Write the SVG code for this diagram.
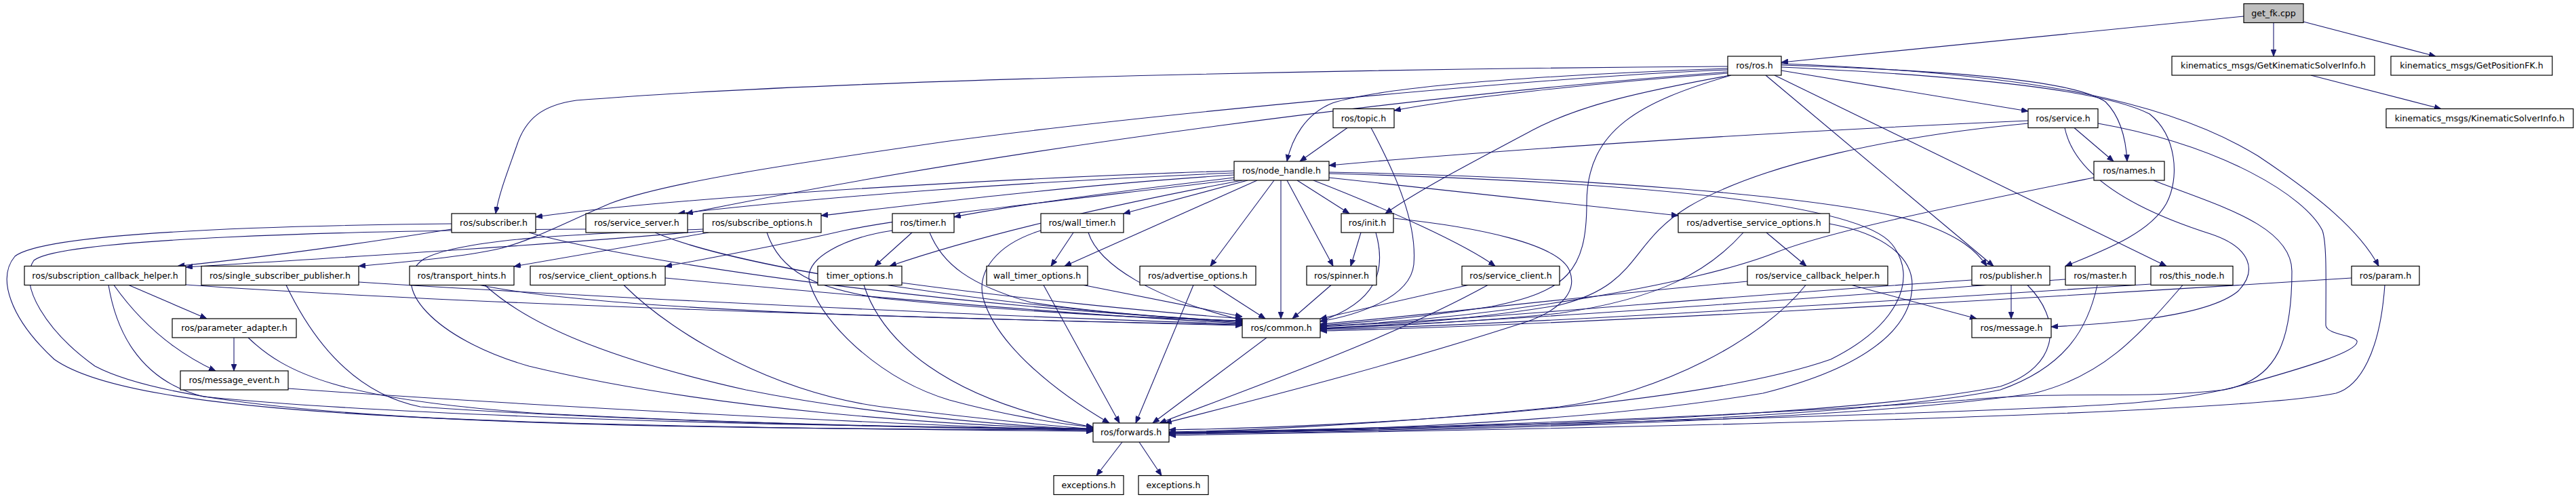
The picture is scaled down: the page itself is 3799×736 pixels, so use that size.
<svg xmlns="http://www.w3.org/2000/svg" width="3799" height="736" viewBox="0 0 3799 736">
<style>
.n rect{fill:#fff;stroke:#000;stroke-width:1.2}
.n.root rect{fill:#bfbfbf}
.n text{font-family:"DejaVu Sans","Liberation Sans",sans-serif;font-size:12.6px;text-anchor:middle;fill:#000}
#edges path{fill:none;stroke:#191970;stroke-width:1.1;marker-end:url(#a)}
</style>
<defs>
<marker id="a" markerWidth="11" markerHeight="8" refX="10" refY="4" orient="auto" markerUnits="userSpaceOnUse"><path d="M0,0 L10,4 L0,8 z" fill="#191970" stroke="#191970" stroke-width="0.8"/></marker>
</defs>
<rect width="3799" height="736" fill="#fff"/>
<g id="edges">
<path d="M3309,24 L2627,92"/>
<path d="M3353,34 L3353,83"/>
<path d="M3397,32 L3592,83"/>
<path d="M3408,111 L3600,160.5"/>
<path d="M2548,98 C2200,100 1300,112 850,148 C800,155 775,175 762,215 C748,255 736,285 731,315"/>
<path d="M2548,103 C2300,112 1700,168 1400,208 C1150,244 980,270 900,300 C830,330 790,352 740,366 C680,380 580,388 529,392.5"/>
<path d="M2548,106 C2100,140 1500,215 1012,315"/>
<path d="M2548,101 C2300,110 2050,125 1965,152 C1925,168 1905,205 1898,238"/>
<path d="M2548,108 C2350,122 2150,145 2056,163"/>
<path d="M2552,111 C2420,135 2330,155 2260,192 C2160,245 2090,282 2043,315"/>
<path d="M2553,111 C2420,150 2340,190 2340,300 C2340,400 2310,430 2200,452 C2100,468 2000,476 1947,480"/>
<path d="M2627,104 L2991,164"/>
<path d="M2627,96 C2900,105 3060,120 3105,150 C3125,170 3135,200 3137,238"/>
<path d="M2604,111 L2940,392.5"/>
<path d="M2627,99 C2900,112 3100,132 3170,168 C3210,200 3215,262 3195,300 C3170,345 3100,370 3046,392.5"/>
<path d="M2617,111 L3195,392.5"/>
<path d="M2627,94 C3000,108 3200,150 3330,230 C3420,290 3480,340 3508,392.5"/>
<path d="M1987,188.5 L1917,238"/>
<path d="M2022,188.5 C2060,260 2090,330 2085,390 C2080,440 2000,465 1947,474"/>
<path d="M2991,178 C2600,195 2200,222 1960,244"/>
<path d="M3059,188.5 L3117,238"/>
<path d="M2991,182 C2800,200 2600,240 2490,305 C2400,360 2420,420 2300,450 C2150,475 2000,482 1947,484"/>
<path d="M3094,182 C3280,215 3400,290 3425,340 C3432,360 3430,420 3430,480 C3432,494 3472,494 3476,503 C3480,518 3400,542 3300,570 C3200,595 3100,598 3000,602 C2600,620 1900,634 1724,638"/>
<path d="M3045,188.5 C3060,260 3150,310 3260,345 C3320,365 3330,400 3300,430 C3250,470 3100,478 3025,482"/>
<path d="M1820,252 C1500,262 1000,290 790,320"/>
<path d="M1820,255 C1500,268 1200,292 1000,315"/>
<path d="M1820,258 C1600,272 1400,296 1211,318"/>
<path d="M1820,262 C1650,282 1500,302 1407,320"/>
<path d="M1840,266 L1657,315"/>
<path d="M1913,266 L1990,315"/>
<path d="M1960,262 L2475,318"/>
<path d="M1822,265 C1600,292 1350,318 1245,340 C1150,362 1050,380 981,393"/>
<path d="M1832,266 C1650,300 1450,345 1312,392.5"/>
<path d="M1854,266 L1570,392.5"/>
<path d="M1879,266 L1785,392.5"/>
<path d="M1898,266 L1966,392.5"/>
<path d="M1889,266 L1889,470"/>
<path d="M1937,266 C2050,310 2160,360 2205,392.5"/>
<path d="M1960,256 C2400,268 2740,298 2790,360 C2830,410 2800,480 2700,530 C2500,600 2000,630 1724,634"/>
<path d="M1960,254 C2300,260 2700,288 2830,328 C2890,348 2915,370 2930,392.5"/>
<path d="M666,338 C560,355 420,376 262,392.5"/>
<path d="M780,343 C950,390 1400,452 1832,474"/>
<path d="M666,330 C300,334 60,348 22,378 C-5,410 15,470 80,530 C200,615 700,628 1612,636"/>
<path d="M966,343 C1100,400 1500,455 1832,476"/>
<path d="M864,338 C500,340 90,352 50,384 C25,420 70,490 140,540 C300,625 900,632 1612,634"/>
<path d="M1037,341 C800,362 500,380 274,394"/>
<path d="M1045,343 L758,393"/>
<path d="M1131,343 C1150,400 1200,425 1300,440 C1500,460 1700,470 1832,473"/>
<path d="M1037,338 C850,345 680,352 625,382 C570,420 640,500 780,540 C1050,605 1400,628 1612,633"/>
<path d="M1345,343 L1290,392.5"/>
<path d="M1371,343 C1390,390 1430,420 1520,446 C1620,462 1750,470 1832,474"/>
<path d="M1316,340 C1250,350 1180,380 1195,420 C1215,480 1300,560 1400,590 C1480,612 1560,625 1612,630"/>
<path d="M1583,343 L1550,392.5"/>
<path d="M1605,343 C1620,390 1700,440 1832,472"/>
<path d="M1535,340 C1470,360 1440,400 1450,440 C1470,510 1560,580 1636,624"/>
<path d="M2007,343 L1992,392.5"/>
<path d="M2029,343 C2045,400 2030,445 1947,474"/>
<path d="M2055,322 C2180,335 2300,360 2315,400 C2330,440 2280,465 2250,475 C2050,540 1850,590 1718,624"/>
<path d="M2605,343 L2664,392.5"/>
<path d="M2571,343 C2520,400 2450,440 2300,462 C2150,478 2000,482 1947,485"/>
<path d="M2698,330 C2780,345 2820,380 2820,420 C2820,480 2760,540 2600,580 C2300,630 1900,636 1724,638"/>
<path d="M190,420.5 L305,470"/>
<path d="M168,420.5 C210,480 260,520 318,547"/>
<path d="M274,420 C700,450 1400,470 1832,480"/>
<path d="M160,420.5 C170,480 200,560 300,585 C600,615 1200,630 1612,632"/>
<path d="M529,416 C900,440 1500,468 1832,478"/>
<path d="M422,420.5 C460,500 520,580 620,600 C900,620 1300,630 1612,633"/>
<path d="M708,420.5 C900,460 1400,470 1832,479"/>
<path d="M715,420.5 C780,480 900,530 1100,575 C1300,615 1500,628 1612,634"/>
<path d="M981,410 C1300,440 1600,465 1832,477"/>
<path d="M920,420.5 C1000,500 1150,580 1300,600 C1450,618 1550,628 1612,633"/>
<path d="M1329,417 C1500,440 1700,460 1832,470"/>
<path d="M1274,420.5 C1300,500 1390,590 1612,630"/>
<path d="M1598,420.5 L1832,467"/>
<path d="M1539,420.5 L1651,624"/>
<path d="M1789,420.5 L1866,470"/>
<path d="M1760,420.5 L1675,624"/>
<path d="M1963,420.5 L1906,470"/>
<path d="M2165,420.5 L1947,470"/>
<path d="M2194,420.5 C2050,500 1850,570 1710,624"/>
<path d="M2577,415 C2300,440 2100,466 1947,478"/>
<path d="M2663,420.5 C2600,500 2450,580 2300,600 C2000,630 1800,636 1724,637"/>
<path d="M2731,420.5 L2915,470"/>
<path d="M2908,413 C2500,440 2200,470 1947,482"/>
<path d="M2966,420.5 L2966,470"/>
<path d="M2990,420.5 C3040,470 3040,540 2950,570 C2700,620 2000,636 1724,638"/>
<path d="M3046,412 C2600,445 2200,475 1947,484"/>
<path d="M3093,420.5 C3080,480 3050,540 2950,575 C2700,625 2000,636 1724,639"/>
<path d="M3172,419 C2700,450 2200,480 1947,486"/>
<path d="M3219,420.5 C3150,500 3100,555 3000,580 C2700,625 2000,638 1724,640"/>
<path d="M3468,410 C3000,440 2300,480 1947,488"/>
<path d="M3517,420.5 C3510,520 3480,570 3445,580 C3300,610 2500,630 1724,642"/>
<path d="M3088,262 C2900,300 2700,340 2620,372 C2500,420 2200,470 1947,481"/>
<path d="M3176,266 C3260,300 3380,330 3380,400 C3380,500 3360,560 3280,575 C3150,590 3050,575 2900,590 C2500,620 1900,636 1724,640"/>
<path d="M345,498 L345,547"/>
<path d="M366,498 C420,550 500,590 800,610 C1100,625 1400,632 1612,634"/>
<path d="M425,573 C800,600 1300,625 1612,636"/>
<path d="M1868,498 L1700,624"/>
<path d="M1655,652 L1617,701.5"/>
<path d="M1680,652 L1713,701.5"/>
</g>
<g id="n_getfk" class="n root"><rect x="3309" y="5.5" width="88" height="28"/><text x="3353" y="23.5">get_fk.cpp</text></g>
<g id="n_ros" class="n"><rect x="2548" y="83" width="79" height="28"/><text x="2587.5" y="101">ros/ros.h</text></g>
<g id="n_gksi" class="n"><rect x="3203" y="83" width="299" height="28"/><text x="3352.5" y="101">kinematics_msgs/GetKinematicSolverInfo.h</text></g>
<g id="n_gpfk" class="n"><rect x="3526" y="83" width="238" height="28"/><text x="3645" y="101">kinematics_msgs/GetPositionFK.h</text></g>
<g id="n_topic" class="n"><rect x="1966" y="160.5" width="90" height="28"/><text x="2011" y="178.5">ros/topic.h</text></g>
<g id="n_service" class="n"><rect x="2991" y="160.5" width="103" height="28"/><text x="3042.5" y="178.5">ros/service.h</text></g>
<g id="n_ksi" class="n"><rect x="3519" y="160.5" width="276" height="28"/><text x="3657" y="178.5">kinematics_msgs/KinematicSolverInfo.h</text></g>
<g id="n_nh" class="n"><rect x="1820" y="238" width="140" height="28"/><text x="1890" y="256">ros/node_handle.h</text></g>
<g id="n_names" class="n"><rect x="3088" y="238" width="104" height="28"/><text x="3140" y="256">ros/names.h</text></g>
<g id="n_subscriber" class="n"><rect x="666" y="315" width="124" height="28"/><text x="728" y="333">ros/subscriber.h</text></g>
<g id="n_sserver" class="n"><rect x="864" y="315" width="150" height="28"/><text x="939" y="333">ros/service_server.h</text></g>
<g id="n_subopts" class="n"><rect x="1037" y="315" width="174" height="28"/><text x="1124" y="333">ros/subscribe_options.h</text></g>
<g id="n_timer" class="n"><rect x="1316" y="315" width="91" height="28"/><text x="1361.5" y="333">ros/timer.h</text></g>
<g id="n_wtimer" class="n"><rect x="1535" y="315" width="122" height="28"/><text x="1596" y="333">ros/wall_timer.h</text></g>
<g id="n_init" class="n"><rect x="1978" y="315" width="77" height="28"/><text x="2016.5" y="333">ros/init.h</text></g>
<g id="n_asopts" class="n"><rect x="2475" y="315" width="223" height="28"/><text x="2586.5" y="333">ros/advertise_service_options.h</text></g>
<g id="n_sch" class="n"><rect x="36" y="392.5" width="238" height="28"/><text x="155" y="410.5">ros/subscription_callback_helper.h</text></g>
<g id="n_ssp" class="n"><rect x="297" y="392.5" width="232" height="28"/><text x="413" y="410.5">ros/single_subscriber_publisher.h</text></g>
<g id="n_th" class="n"><rect x="604" y="392.5" width="154" height="28"/><text x="681" y="410.5">ros/transport_hints.h</text></g>
<g id="n_sco" class="n"><rect x="782" y="392.5" width="199" height="28"/><text x="881.5" y="410.5">ros/service_client_options.h</text></g>
<g id="n_topts" class="n"><rect x="1206" y="392.5" width="124" height="28"/><text x="1268" y="410.5">timer_options.h</text></g>
<g id="n_wtopts" class="n"><rect x="1455" y="392.5" width="149" height="28"/><text x="1529.5" y="410.5">wall_timer_options.h</text></g>
<g id="n_aopts" class="n"><rect x="1681" y="392.5" width="171" height="28"/><text x="1766.5" y="410.5">ros/advertise_options.h</text></g>
<g id="n_spinner" class="n"><rect x="1927" y="392.5" width="103" height="28"/><text x="1978.5" y="410.5">ros/spinner.h</text></g>
<g id="n_sclient" class="n"><rect x="2156" y="392.5" width="144" height="28"/><text x="2228" y="410.5">ros/service_client.h</text></g>
<g id="n_scbh" class="n"><rect x="2577" y="392.5" width="207" height="28"/><text x="2680.5" y="410.5">ros/service_callback_helper.h</text></g>
<g id="n_pub" class="n"><rect x="2908" y="392.5" width="115" height="28"/><text x="2965.5" y="410.5">ros/publisher.h</text></g>
<g id="n_master" class="n"><rect x="3046" y="392.5" width="103" height="28"/><text x="3097.5" y="410.5">ros/master.h</text></g>
<g id="n_thisnode" class="n"><rect x="3172" y="392.5" width="121" height="28"/><text x="3232.5" y="410.5">ros/this_node.h</text></g>
<g id="n_param" class="n"><rect x="3468" y="392.5" width="100" height="28"/><text x="3518" y="410.5">ros/param.h</text></g>
<g id="n_padapt" class="n"><rect x="254" y="470" width="183" height="28"/><text x="345.5" y="488">ros/parameter_adapter.h</text></g>
<g id="n_common" class="n"><rect x="1832" y="470" width="115" height="28"/><text x="1889.5" y="488">ros/common.h</text></g>
<g id="n_message" class="n"><rect x="2908" y="470" width="117" height="28"/><text x="2966.5" y="488">ros/message.h</text></g>
<g id="n_mevent" class="n"><rect x="266" y="547" width="159" height="28"/><text x="345.5" y="565">ros/message_event.h</text></g>
<g id="n_forwards" class="n"><rect x="1612" y="624" width="112" height="28"/><text x="1668" y="642">ros/forwards.h</text></g>
<g id="n_exc1" class="n"><rect x="1554" y="701.5" width="103" height="28"/><text x="1605.5" y="719.5">exceptions.h</text></g>
<g id="n_exc2" class="n"><rect x="1679" y="701.5" width="103" height="28"/><text x="1730.5" y="719.5">exceptions.h</text></g>
</svg>
